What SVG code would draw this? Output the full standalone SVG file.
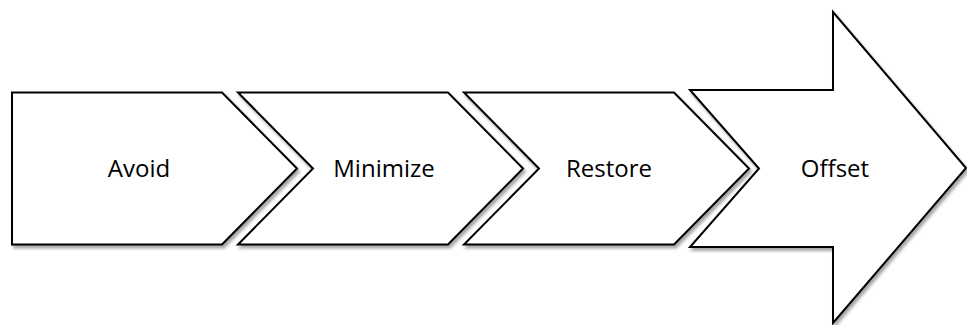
<svg xmlns="http://www.w3.org/2000/svg" width="967" height="325" viewBox="0 0 967 325">
<defs>
<style>
.shape{fill:#ffffff;stroke:#000000;stroke-width:2;stroke-linejoin:miter;filter:url(#sh)}
.lbl{font-family:"Open Sans","Liberation Sans",sans-serif;font-size:24px;fill:#000000;text-anchor:middle}
</style>
<filter id="sh" x="-5%" y="-5%" width="115%" height="115%">
<feDropShadow dx="2" dy="3" stdDeviation="1.5" flood-color="#000000" flood-opacity="0.35"/>
</filter>
</defs>
<rect width="967" height="325" fill="#ffffff"/>
<g id="connectors"></g>
<g id="avoid">
<polygon class="shape" points="12,92.5 222,92.5 297,168.5 222,244.5 12,244.5"/>
<text class="lbl" x="139" y="177">Avoid</text>
</g>
<g id="minimize">
<polygon class="shape" points="238,92.5 448,92.5 523,168.5 448,244.5 238,244.5 313,168.5"/>
<text class="lbl" x="384" y="177">Minimize</text>
</g>
<g id="restore">
<polygon class="shape" points="464,92.5 674,92.5 749,168.5 674,244.5 464,244.5 539,168.5"/>
<text class="lbl" x="609" y="177">Restore</text>
</g>
<g id="offset">
<polygon class="shape" points="690,90 833,90 833,12 966,168 833,323 833,247 690,247 759,168.5"/>
<text class="lbl" x="835" y="177">Offset</text>
</g>
</svg>
